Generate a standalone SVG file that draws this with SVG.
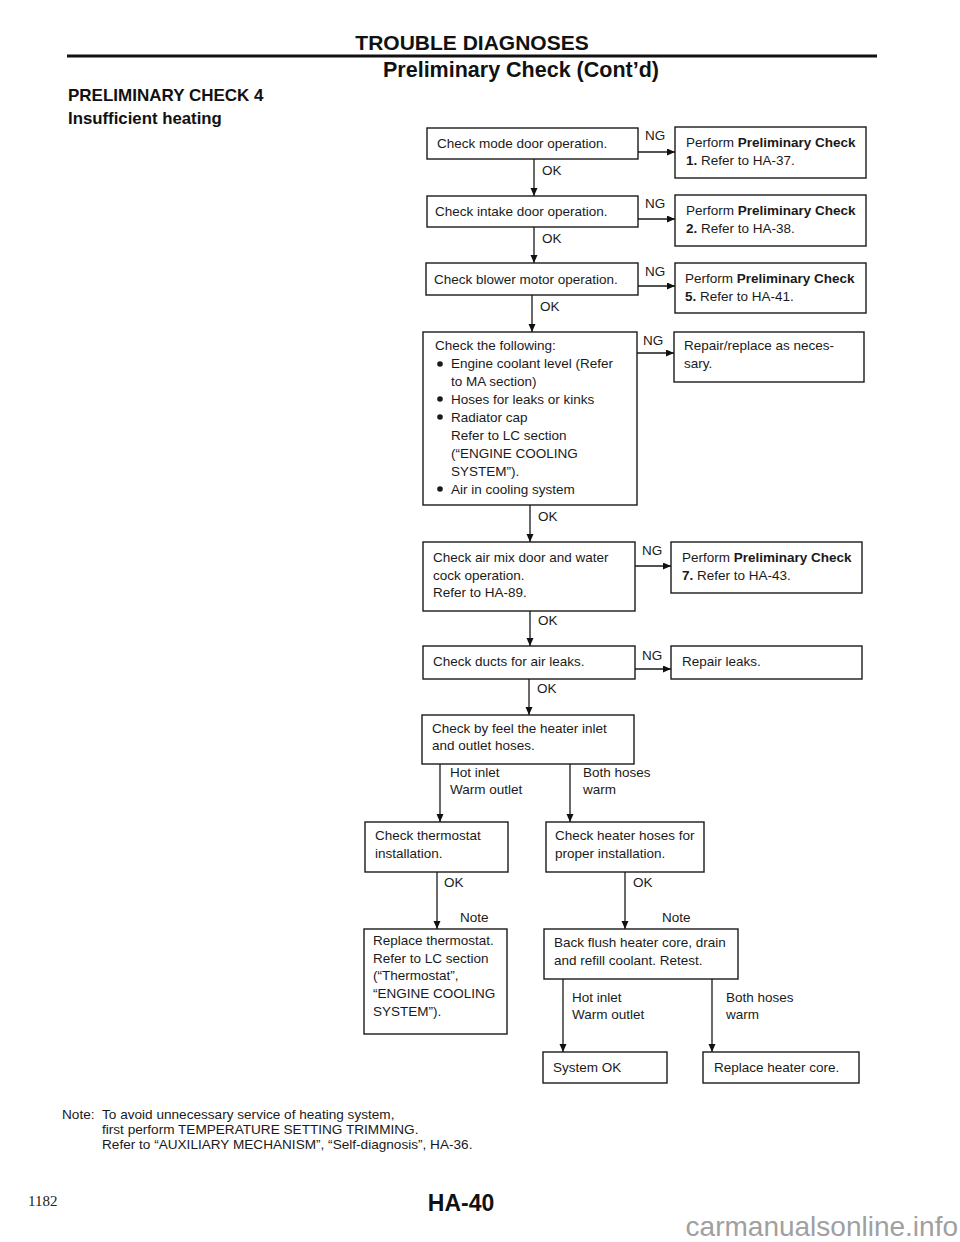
<svg xmlns="http://www.w3.org/2000/svg" width="960" height="1242" viewBox="0 0 960 1242">
<defs>
<marker id="arr" markerUnits="userSpaceOnUse" markerWidth="9" markerHeight="8" refX="8" refY="3.5" orient="auto">
<path d="M0,0 L8,3.5 L0,7 z" fill="#111"/>
</marker>
<style>
.t{font-family:"Liberation Sans",Arial,sans-serif;font-size:13.5px;fill:#1a1a1a}
.s{font-family:"Liberation Sans",Arial,sans-serif;font-size:13.6px;fill:#1a1a1a}
.b{font-weight:bold}
.box{fill:#fff;stroke:#1a1a1a;stroke-width:1.4}
.ln{fill:none;stroke:#1a1a1a;stroke-width:1.3}
.h{font-family:"Liberation Sans",Arial,sans-serif;font-weight:bold;fill:#111}
</style>
</defs>
<rect width="960" height="1242" fill="#fff"/>

<g id="header">
<text class="h" x="472" y="50" font-size="21" text-anchor="middle">TROUBLE DIAGNOSES</text>
<rect x="67" y="54.5" width="810" height="3" fill="#111"/>
<text class="h" x="521" y="77" font-size="21.5" text-anchor="middle">Preliminary Check (Cont’d)</text>
<text class="h" x="68" y="101" font-size="17">PRELIMINARY CHECK 4</text>
<text class="h" x="68" y="124" font-size="16.8">Insufficient heating</text>
</g>

<g id="connectors">
<line class="ln" x1="638" y1="152" x2="675" y2="152" marker-end="url(#arr)"/>
<line class="ln" x1="638" y1="219" x2="675" y2="219" marker-end="url(#arr)"/>
<line class="ln" x1="638" y1="286" x2="675" y2="286" marker-end="url(#arr)"/>
<line class="ln" x1="637" y1="353" x2="674" y2="353" marker-end="url(#arr)"/>
<line class="ln" x1="635" y1="566" x2="671" y2="566" marker-end="url(#arr)"/>
<line class="ln" x1="635" y1="669" x2="671" y2="669" marker-end="url(#arr)"/>
<line class="ln" x1="534" y1="159" x2="534" y2="196" marker-end="url(#arr)"/>
<line class="ln" x1="534" y1="227" x2="534" y2="263" marker-end="url(#arr)"/>
<line class="ln" x1="532" y1="295" x2="532" y2="332" marker-end="url(#arr)"/>
<line class="ln" x1="530" y1="505" x2="530" y2="542" marker-end="url(#arr)"/>
<line class="ln" x1="530" y1="611" x2="530" y2="646" marker-end="url(#arr)"/>
<line class="ln" x1="529" y1="679" x2="529" y2="715" marker-end="url(#arr)"/>
<line class="ln" x1="440" y1="764" x2="440" y2="822" marker-end="url(#arr)"/>
<line class="ln" x1="570" y1="764" x2="570" y2="822" marker-end="url(#arr)"/>
<line class="ln" x1="437" y1="872" x2="437" y2="929" marker-end="url(#arr)"/>
<line class="ln" x1="625" y1="872" x2="625" y2="929" marker-end="url(#arr)"/>
<line class="ln" x1="563" y1="979" x2="563" y2="1052" marker-end="url(#arr)"/>
<line class="ln" x1="712" y1="979" x2="712" y2="1052" marker-end="url(#arr)"/>
<text class="t" x="645" y="140">NG</text>
<text class="t" x="645" y="208">NG</text>
<text class="t" x="645" y="276">NG</text>
<text class="t" x="643" y="345">NG</text>
<text class="t" x="642" y="555">NG</text>
<text class="t" x="642" y="660">NG</text>
<text class="t" x="542" y="175">OK</text>
<text class="t" x="542" y="243">OK</text>
<text class="t" x="540" y="311">OK</text>
<text class="t" x="538" y="521">OK</text>
<text class="t" x="538" y="625">OK</text>
<text class="t" x="537" y="693">OK</text>
<text class="t" x="450" y="777">Hot inlet</text>
<text class="t" x="450" y="794">Warm outlet</text>
<text class="t" x="583" y="777">Both hoses</text>
<text class="t" x="583" y="794">warm</text>
<text class="t" x="444" y="887">OK</text>
<text class="t" x="633" y="887">OK</text>
<text class="t" x="460" y="922">Note</text>
<text class="t" x="662" y="922">Note</text>
<text class="t" x="572" y="1002">Hot inlet</text>
<text class="t" x="572" y="1019">Warm outlet</text>
<text class="t" x="726" y="1002">Both hoses</text>
<text class="t" x="726" y="1019">warm</text>
</g>

<g id="n1"><rect class="box" x="427" y="128" width="211" height="31"/><text class="t" x="437" y="148">Check mode door operation.</text></g>
<g id="r1"><rect class="box" x="675" y="127" width="191" height="51"/><text class="t" x="686" y="147">Perform <tspan class="b">Preliminary Check</tspan></text><text class="t" x="686" y="165"><tspan class="b">1.</tspan> Refer to HA-37.</text></g>

<g id="n2"><rect class="box" x="427" y="196" width="211" height="31"/><text class="t" x="435" y="216">Check intake door operation.</text></g>
<g id="r2"><rect class="box" x="675" y="195" width="191" height="51"/><text class="t" x="686" y="215">Perform <tspan class="b">Preliminary Check</tspan></text><text class="t" x="686" y="233"><tspan class="b">2.</tspan> Refer to HA-38.</text></g>

<g id="n3"><rect class="box" x="426" y="263" width="212" height="32"/><text class="t" x="434" y="284">Check blower motor operation.</text></g>
<g id="r3"><rect class="box" x="675" y="263" width="191" height="50"/><text class="t" x="685" y="283">Perform <tspan class="b">Preliminary Check</tspan></text><text class="t" x="685" y="301"><tspan class="b">5.</tspan> Refer to HA-41.</text></g>

<g id="n4"><rect class="box" x="423" y="332" width="214" height="173"/>
<text class="t" x="435" y="350">Check the following:</text>
<circle cx="440" cy="364" r="2.8" fill="#1a1a1a"/>
<text class="t" x="451" y="368">Engine coolant level (Refer</text>
<text class="t" x="451" y="386">to MA section)</text>
<circle cx="440" cy="399" r="2.8" fill="#1a1a1a"/>
<text class="t" x="451" y="404">Hoses for leaks or kinks</text>
<circle cx="440" cy="417" r="2.8" fill="#1a1a1a"/>
<text class="t" x="451" y="422">Radiator cap</text>
<text class="t" x="451" y="440">Refer to LC section</text>
<text class="t" x="451" y="458">(“ENGINE COOLING</text>
<text class="t" x="451" y="476">SYSTEM”).</text>
<circle cx="440" cy="489" r="2.8" fill="#1a1a1a"/>
<text class="t" x="451" y="494">Air in cooling system</text>
</g>
<g id="r4"><rect class="box" x="674" y="332" width="190" height="50"/><text class="t" x="684" y="350">Repair/replace as neces-</text><text class="t" x="684" y="368">sary.</text></g>

<g id="n5"><rect class="box" x="423" y="542" width="212" height="69"/><text class="t" x="433" y="562">Check air mix door and water</text><text class="t" x="433" y="580">cock operation.</text><text class="t" x="433" y="597">Refer to HA-89.</text></g>
<g id="r5"><rect class="box" x="671" y="542" width="191" height="51"/><text class="t" x="682" y="562">Perform <tspan class="b">Preliminary Check</tspan></text><text class="t" x="682" y="580"><tspan class="b">7.</tspan> Refer to HA-43.</text></g>

<g id="n6"><rect class="box" x="423" y="646" width="212" height="33"/><text class="t" x="433" y="666">Check ducts for air leaks.</text></g>
<g id="r6"><rect class="box" x="671" y="646" width="191" height="33"/><text class="t" x="682" y="666">Repair leaks.</text></g>

<g id="n7"><rect class="box" x="422" y="715" width="212" height="49"/><text class="t" x="432" y="733">Check by feel the heater inlet</text><text class="t" x="432" y="750">and outlet hoses.</text></g>

<g id="n8"><rect class="box" x="365" y="822" width="143" height="50"/><text class="t" x="375" y="840">Check thermostat</text><text class="t" x="375" y="858">installation.</text></g>
<g id="n9"><rect class="box" x="546" y="822" width="158" height="50"/><text class="t" x="555" y="840">Check heater hoses for</text><text class="t" x="555" y="858">proper installation.</text></g>

<g id="n10"><rect class="box" x="364" y="929" width="143" height="105"/>
<text class="t" x="373" y="945">Replace thermostat.</text>
<text class="t" x="373" y="963">Refer to LC section</text>
<text class="t" x="373" y="980">(“Thermostat”,</text>
<text class="t" x="373" y="998">“ENGINE COOLING</text>
<text class="t" x="373" y="1016">SYSTEM”).</text>
</g>
<g id="n11"><rect class="box" x="544" y="929" width="194" height="50"/><text class="t" x="554" y="947">Back flush heater core, drain</text><text class="t" x="554" y="965">and refill coolant. Retest.</text></g>

<g id="n12"><rect class="box" x="543" y="1052" width="124" height="31"/><text class="t" x="553" y="1072">System OK</text></g>
<g id="n13"><rect class="box" x="703" y="1052" width="156" height="31"/><text class="t" x="714" y="1072">Replace heater core.</text></g>

<g id="notes">
<text class="s" x="62" y="1119">Note:</text>
<text class="s" x="102" y="1119">To avoid unnecessary service of heating system,</text>
<text class="s" x="102" y="1134">first perform TEMPERATURE SETTING TRIMMING.</text>
<text class="s" x="102" y="1149">Refer to “AUXILIARY MECHANISM”, “Self-diagnosis”, HA-36.</text>
</g>

<g id="footer">
<text x="28" y="1206" font-family="Liberation Serif,serif" font-size="15" fill="#222">1182</text>
<text class="h" x="461" y="1211" font-size="23" text-anchor="middle">HA-40</text>
<text x="958" y="1236" font-family="Liberation Sans,Arial,sans-serif" font-size="28" fill="#a0a0a0" text-anchor="end">carmanualsonline.info</text>
</g>
</svg>
